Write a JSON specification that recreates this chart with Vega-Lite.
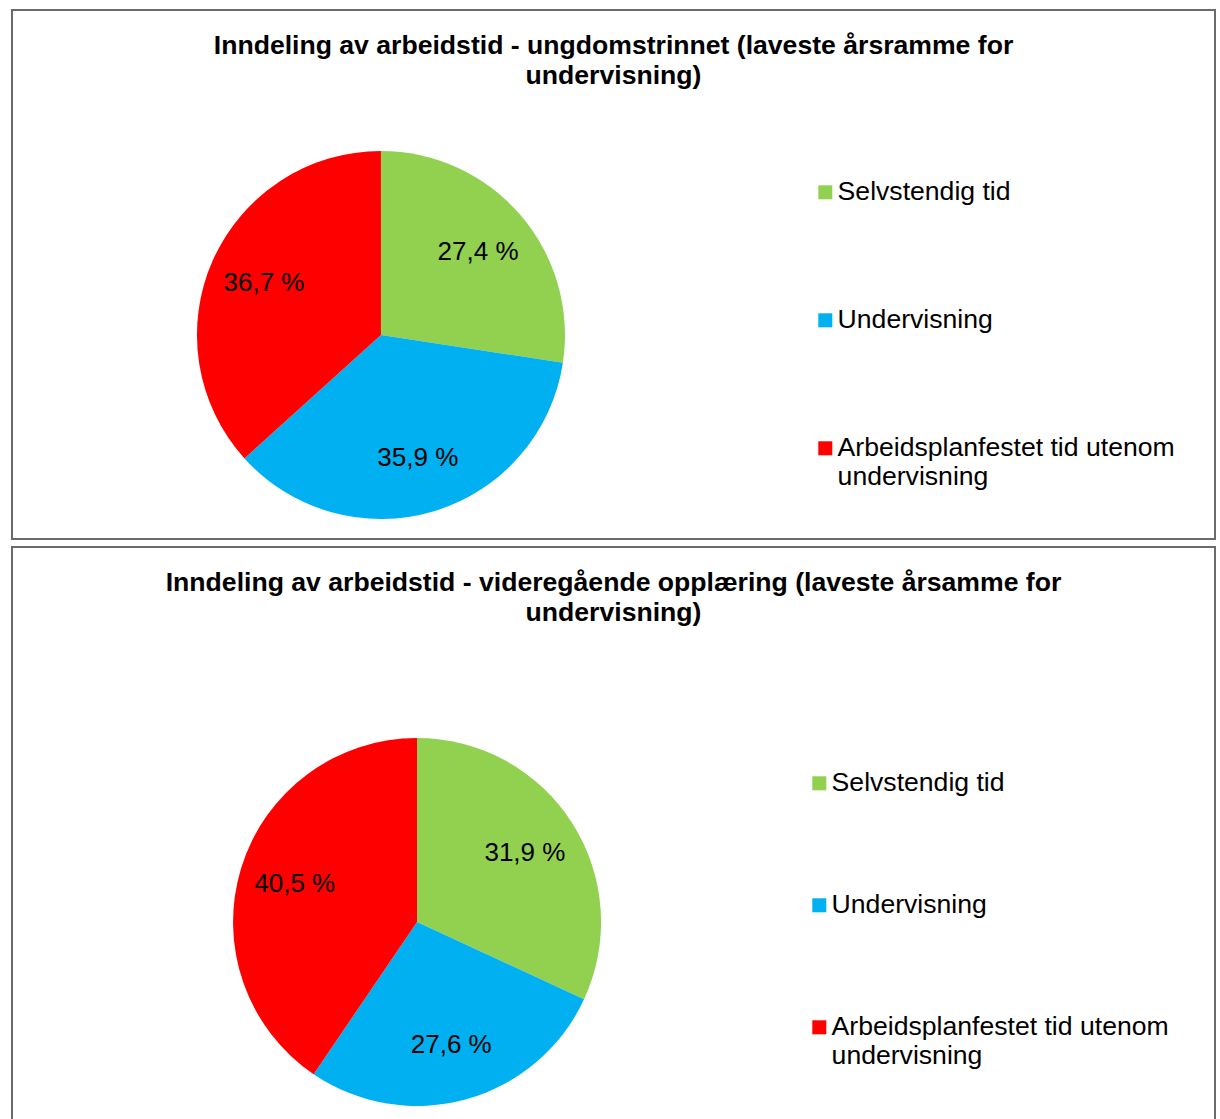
{
  "$schema": "https://vega.github.io/schema/vega-lite/v6.json",
  "padding": {"left": 11, "top": 9, "right": 0, "bottom": 0},
  "background": "white",
  "spacing": 6,
  "resolve": {"scale": {"color": "independent"}, "legend": {"color": "independent"}},
  "config": {
    "view": {"stroke": "#6b6b6b", "strokeWidth": 2},
    "font": "Liberation Sans",
    "title": {"font": "Liberation Sans", "fontSize": 26.6, "fontWeight": "bold", "color": "#000000", "lineHeight": 30, "anchor": "middle", "offset": -80},
    "legend": {
      "orient": "none", "title": null, "symbolType": "square", "symbolSize": 196, "symbolStrokeWidth": 0,
      "labelFont": "Liberation Sans", "labelFontSize": 26.6, "labelColor": "#000000", "labelOffset": -1, "labelLimit": 600, "padding": 0
    }
  },
  "vconcat": [
    {
      "width": 1203,
      "height": 529,
      "title": {"text": ["Inndeling av arbeidstid - ungdomstrinnet (laveste årsramme for", "undervisning)"]},
      "data": {"values": [
        {"category": "Selvstendig tid", "value": 27.4, "label": "27,4 %", "order": 1},
        {"category": "Undervisning", "value": 35.9, "label": "35,9 %", "order": 2},
        {"category": "Arbeidsplanfestet tid utenom undervisning", "value": 36.7, "label": "36,7 %", "order": 3}
      ]},
      "encoding": {
        "theta": {"field": "value", "type": "quantitative", "stack": true},
        "order": {"field": "order", "type": "quantitative"},
        "x": {"datum": 0.3067, "type": "quantitative", "scale": {"domain": [0, 1]}, "axis": null},
        "y": {"datum": 0.6144, "type": "quantitative", "scale": {"domain": [0, 1], "reverse": true}, "axis": null}
      },
      "layer": [
        {
          "mark": {"type": "arc", "outerRadius": 184},
          "encoding": {
            "color": {"field": "category", "type": "nominal",
              "scale": {"domain": ["Selvstendig tid", "Undervisning", "Arbeidsplanfestet tid utenom undervisning"], "range": ["#92D050", "#00B0F0", "#FF0000"]},
              "legend": {"legendX": 800, "legendY": 169, "rowPadding": 101,
                "labelExpr": "datum.label == 'Arbeidsplanfestet tid utenom undervisning' ? ['Arbeidsplanfestet tid utenom', 'undervisning'] : datum.label"}}
          }
        },
        {
          "mark": {"type": "text", "radius": 128, "fontSize": 26, "font": "Liberation Sans", "color": "#000000"},
          "encoding": {"text": {"field": "label"}, "detail": {"field": "category"}}
        }
      ]
    },
    {
      "width": 1203,
      "height": 590,
      "title": {"text": ["Inndeling av arbeidstid - videregående opplæring (laveste årsamme for", "undervisning)"]},
      "data": {"values": [
        {"category": "Selvstendig tid", "value": 31.9, "label": "31,9 %", "order": 1},
        {"category": "Undervisning", "value": 27.6, "label": "27,6 %", "order": 2},
        {"category": "Arbeidsplanfestet tid utenom undervisning", "value": 40.5, "label": "40,5 %", "order": 3}
      ]},
      "encoding": {
        "theta": {"field": "value", "type": "quantitative", "stack": true},
        "order": {"field": "order", "type": "quantitative"},
        "x": {"datum": 0.3367, "type": "quantitative", "scale": {"domain": [0, 1]}, "axis": null},
        "y": {"datum": 0.6356, "type": "quantitative", "scale": {"domain": [0, 1], "reverse": true}, "axis": null}
      },
      "layer": [
        {
          "mark": {"type": "arc", "outerRadius": 184},
          "encoding": {
            "color": {"field": "category", "type": "nominal",
              "scale": {"domain": ["Selvstendig tid", "Undervisning", "Arbeidsplanfestet tid utenom undervisning"], "range": ["#92D050", "#00B0F0", "#FF0000"]},
              "legend": {"legendX": 794, "legendY": 223, "rowPadding": 95,
                "labelExpr": "datum.label == 'Arbeidsplanfestet tid utenom undervisning' ? ['Arbeidsplanfestet tid utenom', 'undervisning'] : datum.label"}}
          }
        },
        {
          "mark": {"type": "text", "radius": 128, "fontSize": 26, "font": "Liberation Sans", "color": "#000000"},
          "encoding": {"text": {"field": "label"}, "detail": {"field": "category"}}
        }
      ]
    }
  ]
}
